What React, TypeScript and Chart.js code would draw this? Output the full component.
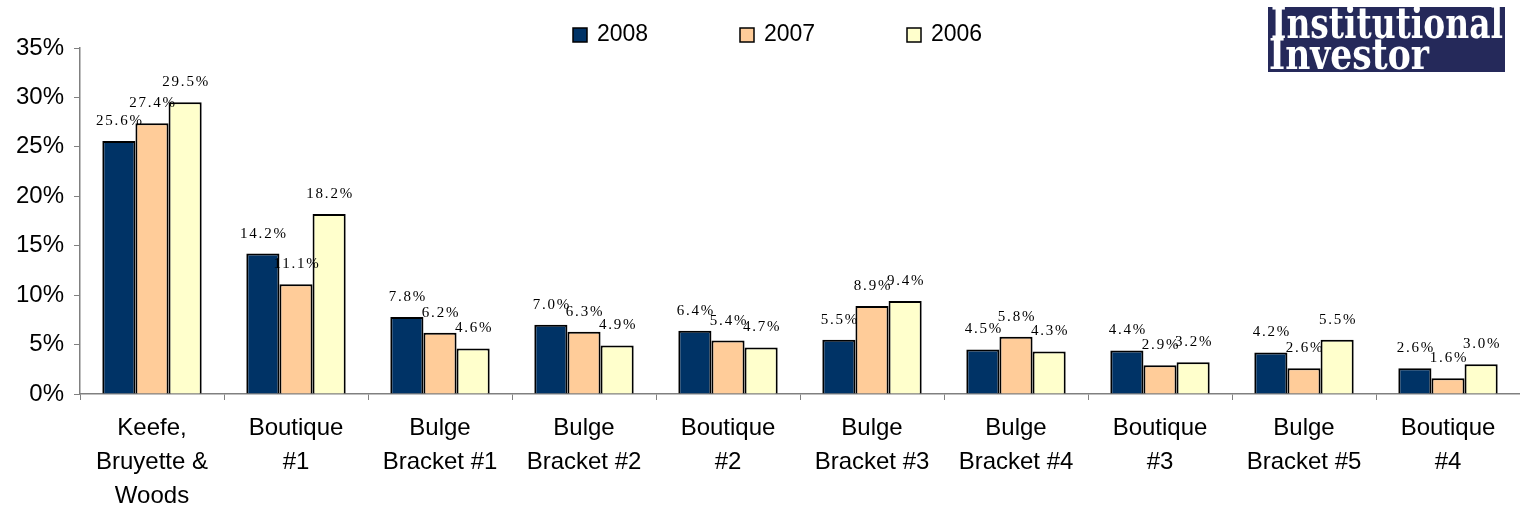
import React, { useEffect, useRef } from "react";
import { Chart, registerables } from "chart.js";

Chart.register(...registerables);

const categories: string[][] = [
  ["Keefe,", "Bruyette &", "Woods"],
  ["Boutique", "#1"],
  ["Bulge", "Bracket #1"],
  ["Bulge", "Bracket #2"],
  ["Boutique", "#2"],
  ["Bulge", "Bracket #3"],
  ["Bulge", "Bracket #4"],
  ["Boutique", "#3"],
  ["Bulge", "Bracket #5"],
  ["Boutique", "#4"],
];
const seriesNames = ["2008", "2007", "2006"];
const values2008 = [25.6, 14.2, 7.8, 7.0, 6.4, 5.5, 4.5, 4.4, 4.2, 2.6];
const values2007 = [27.4, 11.1, 6.2, 6.3, 5.4, 8.9, 5.8, 2.9, 2.6, 1.6];
const values2006 = [29.5, 18.2, 4.6, 4.9, 4.7, 9.4, 4.3, 3.2, 5.5, 3.0];
const seriesColors = ["#003366", "#FFCC99", "#FFFFCC"];
const yMax = 35;
const yStep = 5;
const logoLines = ["Institutional", "Investor"];

const valueLabelPlugin = {
  id: "valueLabels",
  afterDatasetsDraw(chart: any) {
    const ctx = chart.ctx;
    ctx.save();
    ctx.font = '15px "Liberation Serif", "Times New Roman", serif';
    (ctx as any).letterSpacing = "1.8px";
    ctx.fillStyle = "#000";
    ctx.textAlign = "center";
    ctx.textBaseline = "middle";
    chart.data.datasets.forEach((ds: any, i: number) => {
      const meta = chart.getDatasetMeta(i);
      meta.data.forEach((bar: any, j: number) => {
        const v = ds.data[j];
        ctx.fillText(v.toFixed(1) + "%", bar.x + 1, bar.y - 20);
      });
    });
    ctx.restore();
  },
};

const legendPlugin = {
  id: "customLegend",
  afterDraw(chart: any) {
    const ctx = chart.ctx;
    ctx.save();
    const startX = 573;
    const spacing = 167;
    const boxY = 28;
    const box = 14;
    ctx.font = '23px "Liberation Sans", Arial, sans-serif';
    ctx.textBaseline = "middle";
    ctx.textAlign = "left";
    chart.data.datasets.forEach((ds: any, i: number) => {
      const x = startX + i * spacing;
      ctx.fillStyle = ds.backgroundColor;
      ctx.fillRect(x, boxY, box, box);
      ctx.lineWidth = 1.5;
      ctx.strokeStyle = "#000";
      ctx.strokeRect(x, boxY, box, box);
      ctx.fillStyle = "#000";
      ctx.fillText(ds.label, x + box + 10, boxY + box / 2);
    });
    ctx.restore();
  },
};

const logoPlugin = {
  id: "logo",
  afterDraw(chart: any) {
    const ctx = chart.ctx;
    ctx.save();
    const left = 1268;
    const top = 7;
    const w = 237;
    const h = 65;
    ctx.fillStyle = "#25295a";
    ctx.fillRect(left, top, w, h);
    ctx.fillStyle = "#ffffff";
    ctx.font = 'bold 42px "DejaVu Serif", "Liberation Serif", serif';
    ctx.textBaseline = "alphabetic";
    ctx.textAlign = "left";
    const targets = [
      { x: left + 3, base: top + 31, width: 232 },
      { x: left + 1, base: top + 62, width: 160 },
    ];
    logoLines.forEach((line, i) => {
      const t = targets[i];
      const mw = ctx.measureText(line).width;
      ctx.save();
      ctx.translate(t.x, t.base);
      ctx.scale(t.width / mw, 1);
      ctx.fillText(line, 0, 0);
      ctx.restore();
    });
    ctx.restore();
  },
};

export default function App() {
  const canvasRef = useRef<HTMLCanvasElement | null>(null);

  useEffect(() => {
    document.body.style.margin = "0";
    const canvas = canvasRef.current;
    if (!canvas) return;
    const allValues = [values2008, values2007, values2006];
    const chart = new Chart(canvas, {
      type: "bar",
      data: {
        labels: categories,
        datasets: seriesNames.map((name, i) => ({
          label: name,
          data: allValues[i],
          backgroundColor: seriesColors[i],
          borderColor: "#000000",
          borderWidth: 2,
          categoryPercentage: 0.69,
          barPercentage: 1.0,
        })),
      },
      options: {
        animation: false,
        responsive: false,
        devicePixelRatio: 1,
        layout: { padding: { top: 48, left: 0, right: 0, bottom: 0 } },
        plugins: {
          legend: { display: false },
          tooltip: { enabled: false },
          title: { display: false },
        },
        scales: {
          x: {
            grid: {
              display: true,
              drawOnChartArea: false,
              drawTicks: true,
              tickLength: 6,
              color: "#808080",
              offset: true,
            },
            border: { display: true, color: "#808080", width: 1.5 },
            ticks: {
              color: "#000",
              font: { family: '"Liberation Sans", Arial, sans-serif', size: 24, lineHeight: 1.42 },
              padding: 11,
              maxRotation: 0,
              autoSkip: false,
            },
            afterFit(scale: any) {
              scale.height = 113;
            },
          },
          y: {
            min: 0,
            max: yMax,
            grid: {
              display: true,
              drawOnChartArea: false,
              drawTicks: true,
              tickLength: 6,
              color: "#808080",
            },
            border: { display: true, color: "#808080", width: 1.5 },
            ticks: {
              stepSize: yStep,
              color: "#000",
              font: { family: '"Liberation Sans", Arial, sans-serif', size: 24 },
              padding: 10,
              callback: (v: any) => v + "%",
            },
            afterFit(scale: any) {
              scale.width = 80;
            },
          },
        },
      },
      plugins: [valueLabelPlugin, legendPlugin, logoPlugin],
    });
    return () => chart.destroy();
  }, []);

  return (
    <div style={{ width: 1520, height: 507 }}>
      <canvas ref={canvasRef} width={1520} height={507} />
    </div>
  );
}
